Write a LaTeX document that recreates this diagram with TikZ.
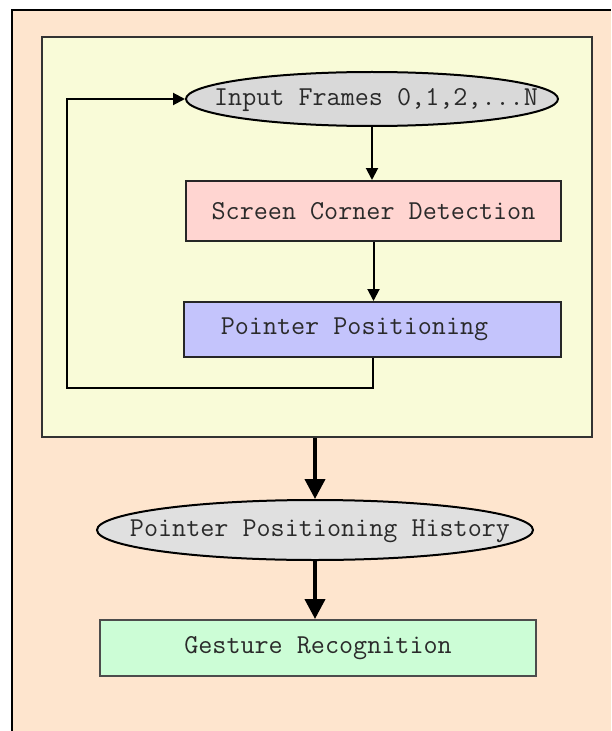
\documentclass[tikz,border=0pt]{standalone}
\usepackage{fontspec}
\usetikzlibrary{shapes.geometric,arrows.meta}
\definecolor{peach}{HTML}{FEE5CE}
\definecolor{paleyellow}{HTML}{F9FBD8}
\definecolor{ellgray}{HTML}{D9D9D9}
\definecolor{ellgray2}{HTML}{E0E0E0}
\definecolor{pinkbox}{HTML}{FFD5D1}
\definecolor{bluebox}{HTML}{C4C4FC}
\definecolor{greenbox}{HTML}{CCFDD6}
\definecolor{txt}{HTML}{2A2A2A}
\tikzset{
  lbl/.style={font=\ttfamily\fontsize{20.5}{22}\selectfont, text=txt, inner sep=0pt},
  ell/.style={ellipse, draw=black, line width=1.5pt, inner sep=0pt},
  box/.style={lbl, rectangle, draw=black!85, line width=1.5pt},
  thin arrow/.style={draw=black, line width=1.5pt, -{Triangle[length=9pt,width=9pt]}},
  thick arrow/.style={draw=black, line width=3pt, -{Triangle[length=15pt,width=15pt]}},
}
\begin{document}
\begin{tikzpicture}[x=0.75pt,y=-0.75pt]
\useasboundingbox (0,0) rectangle (611,731);
\fill[white] (0,0) rectangle (611,731);
% outer frame
\fill[peach] (12,10) rectangle (611,731);
\draw[black, line width=2pt] (12,731) -- (12,10) -- (611,10);
% inner box
\node[rectangle, draw=black!80, line width=1.5pt, fill=paleyellow, minimum width=412.5pt, minimum height=300pt, inner sep=0pt] (inner) at (317,237) {};
% nodes
\node[ell, fill=ellgray, minimum width=279pt, minimum height=40.5pt] (in) at (372,99) {};
\node[lbl] (inT) at (376,100) {Input Frames 0,1,2,...N};
\node[box, fill=pinkbox, minimum width=281.25pt, minimum height=45pt] (scd) at (373.5,211) {Screen Corner Detection};
\node[box, fill=bluebox, minimum width=282.75pt, minimum height=41.25pt] (pp) at (372.5,329.5) {Pointer Positioning\hspace*{27pt}};
\node[ell, fill=ellgray2, minimum width=327pt, minimum height=45pt] (pph) at (315,530) {};
\node[lbl] (pphT) at (320,531) {Pointer Positioning History};
\node[box, draw=black!70, fill=greenbox, minimum width=327pt, minimum height=42pt] (gr) at (318,648) {Gesture Recognition};
\coordinate (lp) at (67,388);
% connectors
\draw[thin arrow] (in.south) -- (in.south |- scd.north);
\draw[thin arrow] (scd.south) -- (scd.south |- pp.north);
\draw[thin arrow] (pp.south) |- (lp) |- (in.west);
\draw[thick arrow] (pph.north |- inner.south) -- (pph.north);
\draw[thick arrow] (pph.south) -- (pph.south |- gr.north);
\end{tikzpicture}
\end{document}
